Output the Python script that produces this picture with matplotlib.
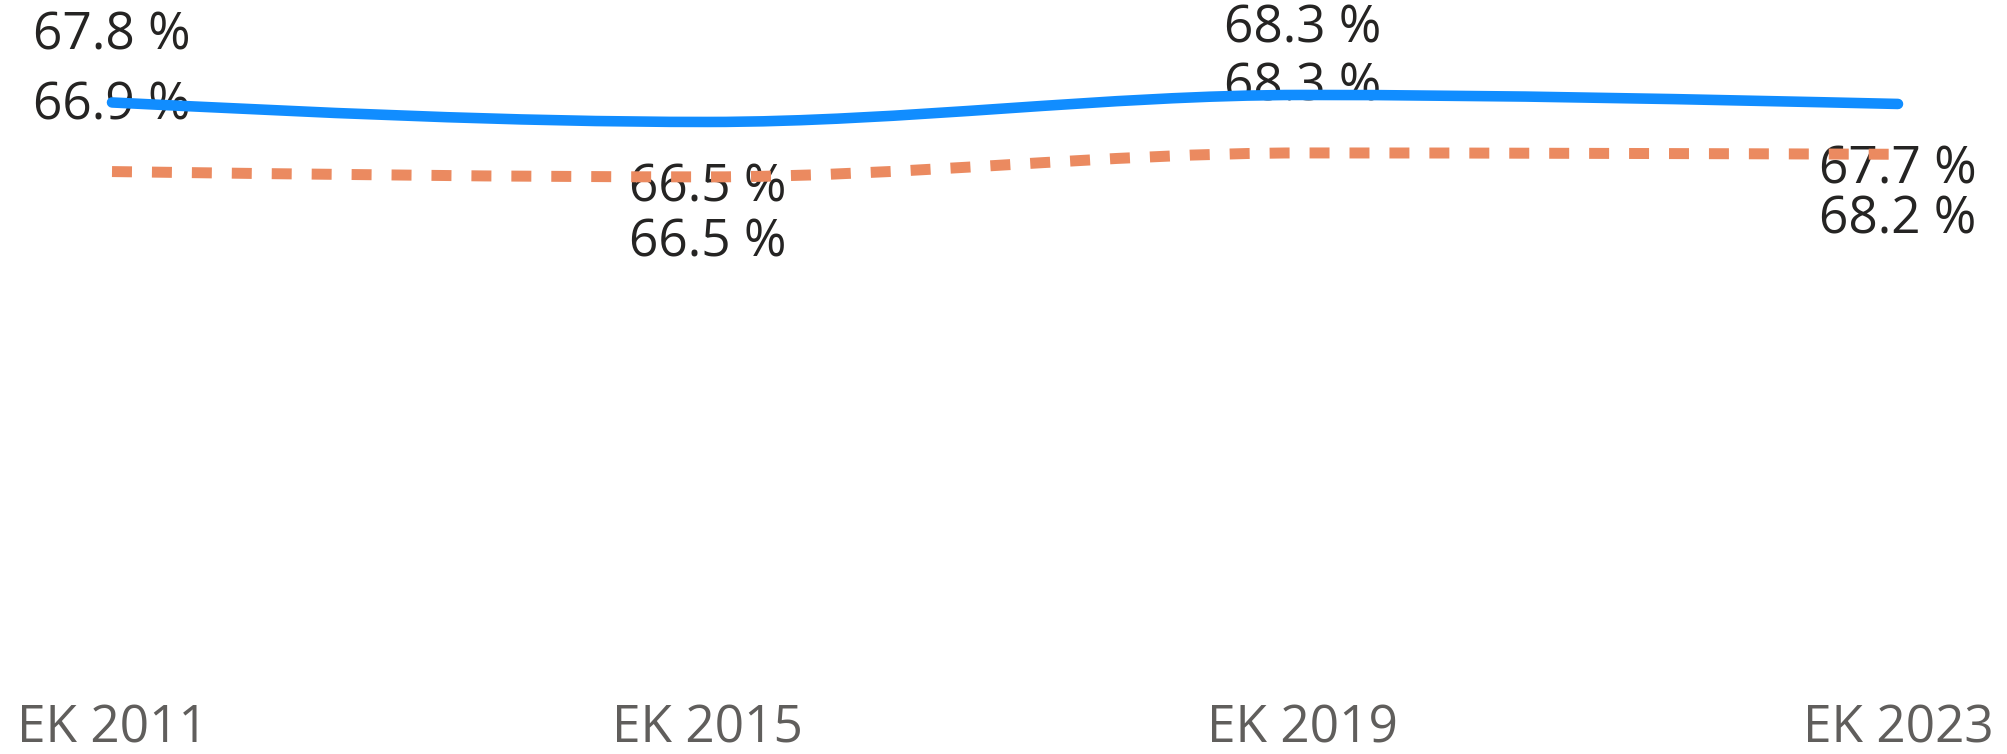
import numpy as np
import matplotlib
matplotlib.use("Agg")
import matplotlib.pyplot as plt
from matplotlib.path import Path
from matplotlib.patches import PathPatch

plt.rcParams['font.family'] = ['Open Sans', 'DejaVu Sans']

categories = ["EK 2011", "EK 2015", "EK 2019", "EK 2023"]
blue_values = [67.8, 66.5, 68.3, 67.7]
orange_values = [66.9, 66.5, 68.3, 68.2]

blue_color = "#118DFF"
orange_color = "#EB8A60"
label_color = "#252423"
tick_color = "#605E5C"


def smooth_path(xs, ys):
    # monotone cubic (same idea as the smooth line option), as bezier segments
    xs = np.asarray(xs, float)
    ys = np.asarray(ys, float)
    h = np.diff(xs)
    s = np.diff(ys) / h
    t = np.zeros(len(xs))
    for i in range(1, len(xs) - 1):
        p = (s[i - 1] * h[i] + s[i] * h[i - 1]) / (h[i - 1] + h[i])
        t[i] = (np.sign(s[i - 1]) + np.sign(s[i])) * min(abs(s[i - 1]), abs(s[i]), 0.5 * abs(p))
    t[0] = (3 * s[0] - t[1]) / 2
    t[-1] = (3 * s[-1] - t[-2]) / 2
    verts = [(xs[0], ys[0])]
    codes = [Path.MOVETO]
    for i in range(len(xs) - 1):
        dx = h[i] / 3
        verts += [(xs[i] + dx, ys[i] + dx * t[i]),
                  (xs[i + 1] - dx, ys[i + 1] - dx * t[i + 1]),
                  (xs[i + 1], ys[i + 1])]
        codes += [Path.CURVE4] * 3
    return Path(verts, codes)


fig = plt.figure(figsize=(20.08, 7.54), dpi=100)
ax = fig.add_axes([112 / 2008, 74 / 754, (1898 - 112) / 2008, 680 / 754])
ax2 = ax.twinx()

x = np.arange(len(categories))
ax.set_xlim(0, len(categories) - 1)
ax.set_ylim(28.67, 79.80)
ax2.set_ylim(29.3, 74.63)

orange = PathPatch(smooth_path(x, orange_values), fill=False, edgecolor=orange_color,
                   linewidth=7.9, linestyle=(0, (1.82, 1.82)), capstyle='butt',
                   clip_on=False, zorder=3)
ax.add_patch(orange)
blue = PathPatch(smooth_path(x, blue_values), fill=False, edgecolor=blue_color,
                 linewidth=7.6, capstyle='round', joinstyle='round',
                 clip_on=False, zorder=3)
ax2.add_patch(blue)

# labels sit above the point, then below, alternating
side = [1, -1, 1, -1]
for i in range(len(categories)):
    ax.annotate(f"{orange_values[i]} %", xy=(x[i], orange_values[i]),
                xytext=(0, 47.5 * side[i]), textcoords='offset points',
                ha='center', va='center', fontsize=37, color=label_color,
                annotation_clip=False, zorder=2)
    ax.annotate(f"{blue_values[i]} %", xy=(x[i], blue_values[i]), xycoords=ax2.transData,
                xytext=(0, 47.5 * side[i]), textcoords='offset points',
                ha='center', va='center', fontsize=37, color=label_color,
                annotation_clip=False, zorder=2)

ax.set_xticks(x)
ax.set_xticklabels(categories, fontsize=37, color=tick_color)
ax.tick_params(axis='x', length=0, pad=17)
ax.set_yticks([])
ax2.set_yticks([])
for a in (ax, ax2):
    for sp in a.spines.values():
        sp.set_visible(False)

fig.savefig("out.png", dpi=100)
